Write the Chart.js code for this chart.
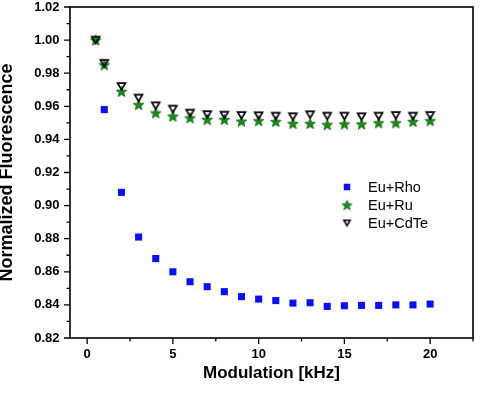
<!DOCTYPE html>
<html><head><meta charset="utf-8">
<script src="https://cdn.jsdelivr.net/npm/chart.js@4.4.0/dist/chart.umd.min.js"></script>
<style>html,body{margin:0;padding:0;background:#fff}#wrap{width:480px;height:396px}</style>
</head><body><div id="wrap"><canvas id="c" width="480" height="396"></canvas></div>
<script>
// ---- data ----
const modulationKHz = [0.5,1,2,3,4,5,6,7,8,9,10,11,12,13,14,15,16,17,18,19,20];
const rhoModulationKHz = [1,2,3,4,5,6,7,8,9,10,11,12,13,14,15,16,17,18,19,20];
const euRho = [0.958,0.908,0.881,0.868,0.860,0.854,0.851,0.848,0.845,0.8435,0.8426,0.8411,0.8413,0.8391,0.8395,0.8397,0.8397,0.8400,0.8400,0.8405];
const euRu = [1.000,0.985,0.969,0.961,0.956,0.954,0.953,0.952,0.952,0.951,0.9513,0.9508,0.9496,0.9496,0.9489,0.9493,0.9493,0.9500,0.9500,0.9508,0.9513];
const euCdTe = [1.000,0.986,0.972,0.965,0.9603,0.9583,0.9559,0.955,0.9547,0.9545,0.9543,0.9541,0.9537,0.9549,0.9541,0.9541,0.9537,0.9541,0.9545,0.9541,0.9545];
const seriesLabels = ['Eu+Rho','Eu+Ru','Eu+CdTe'];
const xTickValues = [0,5,10,15,20];
const xMinorTickValues = [2.5,7.5,12.5,17.5,22.5];
const yTickValues = [0.82,0.84,0.86,0.88,0.90,0.92,0.94,0.96,0.98,1.00,1.02];
const yMinorTickValues = [0.83,0.85,0.87,0.89,0.91,0.93,0.95,0.97,0.99,1.01];

const FONT = "Arial, 'Liberation Sans', Helvetica, sans-serif";

function makeStar(R){
  const c=document.createElement('canvas');c.width=13;c.height=13;
  const g=c.getContext('2d');
  const r=R*0.42,cx=6.5,cy=6.5+0.0955*R;
  g.beginPath();
  for(let i=0;i<10;i++){const a=-Math.PI/2+i*Math.PI/5;const rad=i%2?r:R;g.lineTo(cx+rad*Math.cos(a),cy+rad*Math.sin(a));}
  g.closePath();g.fillStyle='#188c18';g.fill();g.strokeStyle='#0a5c0a';g.lineWidth=0.8;g.stroke();
  return c;
}
function makeTri(hw,hh,lw){
  const c=document.createElement('canvas');c.width=13;c.height=13;
  const g=c.getContext('2d');
  const cx=6.5,cy=6.5;
  g.beginPath();g.moveTo(cx-hw,cy-hh);g.lineTo(cx+hw,cy-hh);g.lineTo(cx,cy+hh);g.closePath();
  g.strokeStyle='#000';g.lineWidth=lw;g.lineJoin='miter';g.stroke();
  return c;
}
const starImg=makeStar(5.6), triImg=makeTri(3.9,3.3,1.7);
const legendStyles=['rect',makeStar(5.2),makeTri(3.1,2.7,1.6)];

const toPts=(xs,ys)=>ys.map((y,i)=>({x:xs[i],y}));

const frameTicks={
  id:'frameTicks',
  beforeDatasetsDraw(chart){
    const {ctx,chartArea:a,scales:{x,y}}=chart;
    ctx.save();
    ctx.strokeStyle='#000';ctx.lineWidth=1.6;
    ctx.strokeRect(a.left,a.top,a.right-a.left,a.bottom-a.top);
    ctx.lineWidth=1.3;
    ctx.beginPath();
    xTickValues.forEach(v=>{const p=x.getPixelForValue(v);ctx.moveTo(p,a.bottom);ctx.lineTo(p,a.bottom+6);});
    xMinorTickValues.forEach(v=>{const p=x.getPixelForValue(v);ctx.moveTo(p,a.bottom);ctx.lineTo(p,a.bottom+3.5);});
    yTickValues.forEach(v=>{const p=y.getPixelForValue(v);ctx.moveTo(a.left,p);ctx.lineTo(a.left-6,p);});
    yMinorTickValues.forEach(v=>{const p=y.getPixelForValue(v);ctx.moveTo(a.left,p);ctx.lineTo(a.left-3.5,p);});
    ctx.stroke();
    ctx.restore();
  }
};

const insideLegend={
  id:'insideLegend',
  afterDraw(chart){
    const ctx=chart.ctx;
    ctx.save();
    ctx.font="14.5px "+FONT;ctx.fillStyle='#000';ctx.textBaseline='middle';ctx.textAlign='left';
    chart.data.datasets.forEach((ds,i)=>{
      const yy=187+i*18, mx=347;
      ctx.save();
      ctx.fillStyle=ds.pointBackgroundColor;ctx.strokeStyle=ds.pointBorderColor;
      Chart.helpers.drawPoint(ctx,{pointStyle:legendStyles[i],radius:i===0?4.6:ds.pointRadius,rotation:0,borderWidth:0},mx,yy);
      ctx.restore();
      ctx.fillText(ds.label,368,yy+0.5);
    });
    ctx.restore();
  }
};

new Chart(document.getElementById('c'),{
  type:'scatter',
  data:{datasets:[
    {label:seriesLabels[0],data:toPts(rhoModulationKHz,euRho),pointStyle:'rect',pointRadius:5,pointBackgroundColor:'#0a10f0',pointBorderColor:'#0a10f0',pointBorderWidth:0,order:3},
    {label:seriesLabels[1],data:toPts(modulationKHz,euRu),pointStyle:starImg,pointRadius:6,pointBackgroundColor:'#188c18',pointBorderColor:'#188c18',order:2},
    {label:seriesLabels[2],data:toPts(modulationKHz,euCdTe),pointStyle:triImg,pointRadius:6,pointBackgroundColor:'rgba(0,0,0,0)',pointBorderColor:'#000',order:1}
  ]},
  options:{
    responsive:false,animation:false,devicePixelRatio:1,
    layout:{padding:{left:0,right:2,top:6,bottom:0}},
    plugins:{legend:{display:false},tooltip:{enabled:false}},
    scales:{
      x:{type:'linear',min:-1,max:22.5,
        afterBuildTicks:s=>{s.ticks=xTickValues.map(v=>({value:v}));},
        afterFit:s=>{s.height=58;s.paddingLeft=0;s.paddingRight=0;},
        grid:{display:false,drawTicks:false},border:{display:false},
        ticks:{color:'#000',font:{family:FONT,size:13,weight:'bold'},padding:9,maxRotation:0,autoSkip:false,callback:v=>String(v)},
        title:{display:true,text:'Modulation [kHz]',color:'#000',font:{family:FONT,size:17,weight:'bold'},padding:{top:0,bottom:12}}
      },
      y:{type:'linear',min:0.82,max:1.02,
        afterBuildTicks:s=>{s.ticks=yTickValues.map(v=>({value:v}));},
        afterFit:s=>{s.width=70;s.paddingTop=0;s.paddingBottom=0;},
        grid:{display:false,drawTicks:false},border:{display:false},
        ticks:{color:'#000',font:{family:FONT,size:13,weight:'bold'},padding:10.5,autoSkip:false,callback:v=>v.toFixed(2)},
        title:{display:true,text:'Normalized Fluorescence',color:'#000',font:{family:FONT,size:18,weight:'bold',lineHeight:0.8},padding:0}
      }
    }
  },
  plugins:[frameTicks,insideLegend]
});
</script></body></html>
